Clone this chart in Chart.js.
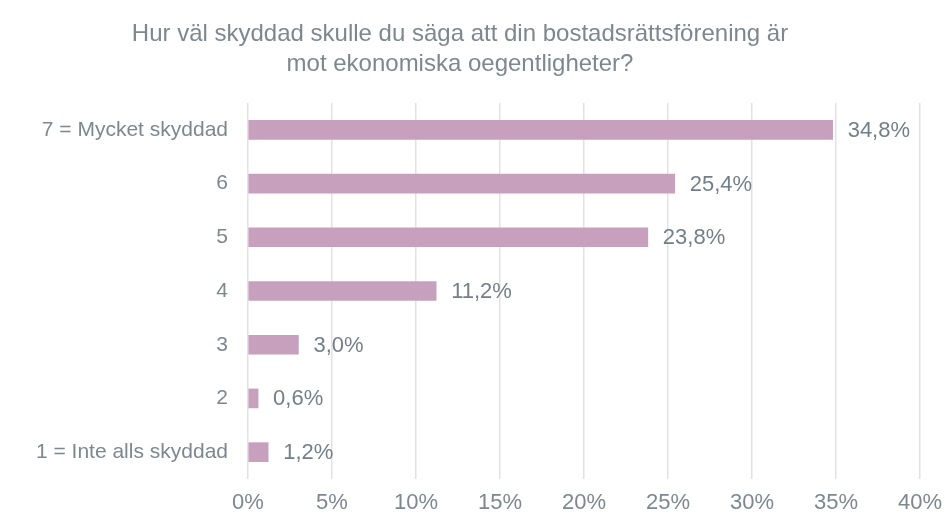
<!DOCTYPE html>
<html lang="sv">
<head>
    <meta charset="UTF-8">
    <title>Hur väl skyddad skulle du säga att din bostadsrättsförening är</title>
    <script src="https://cdnjs.cloudflare.com/ajax/libs/Chart.js/4.4.1/chart.umd.min.js"></script>
    <style>
        body {
            margin: 0;
            background: #ffffff;
        }
        .chart-wrapper {
            width: 945px;
            height: 517px;
            position: relative;
        }
    </style>
</head>
<body>
    <div class="chart-wrapper">
        <canvas id="chart"></canvas>
    </div>

    <script>
        // Data
        const categories = ['7 = Mycket skyddad', '6', '5', '4', '3', '2', '1 = Inte alls skyddad'];
        const values = [34.8, 25.4, 23.8, 11.2, 3.0, 0.6, 1.2];
        const xTicks = [0, 5, 10, 15, 20, 25, 30, 35, 40];

        const textColor = '#7d8790';
        const fontFamily = "'Liberation Sans', Arial, sans-serif";

        // Etiketter vid stapelns slut
        const valueLabels = {
            id: 'valueLabels',
            afterDatasetsDraw(chart) {
                const ctx = chart.ctx;
                const meta = chart.getDatasetMeta(0);
                ctx.save();
                ctx.fillStyle = '#737f88';
                ctx.font = '22px ' + fontFamily;
                ctx.textAlign = 'left';
                ctx.textBaseline = 'middle';
                meta.data.forEach((bar, i) => {
                    const txt = values[i].toFixed(1).replace('.', ',') + '%';
                    ctx.fillText(txt, bar.x + 15, bar.y + 1);
                });
                ctx.restore();
            }
        };

        new Chart(document.getElementById('chart'), {
            type: 'bar',
            data: {
                labels: categories,
                datasets: [{
                    data: values,
                    backgroundColor: '#c6a0bd',
                    borderWidth: 0,
                    barThickness: 19
                }]
            },
            options: {
                indexAxis: 'y',
                responsive: true,
                maintainAspectRatio: false,
                animation: false,
                layout: {
                    padding: { top: 0, right: 25, bottom: 0, left: 0 }
                },
                plugins: {
                    legend: { display: false },
                    tooltip: { enabled: false },
                    title: {
                        display: true,
                        text: ['Hur väl skyddad skulle du säga att din bostadsrättsförening är',
                               'mot ekonomiska oegentligheter?'],
                        color: textColor,
                        font: { family: fontFamily, size: 24, weight: 'normal', lineHeight: 1.25 },
                        padding: { top: 19, bottom: 24 }
                    }
                },
                scales: {
                    x: {
                        min: 0,
                        max: 40,
                        afterBuildTicks(axis) {
                            axis.ticks = xTicks.map(v => ({ value: v }));
                        },
                        afterFit(scale) {
                            scale.height = 38;
                            scale.paddingRight = 0;
                            scale.paddingLeft = 0;
                        },
                        ticks: {
                            color: textColor,
                            font: { family: fontFamily, size: 22 },
                            padding: 11,
                            maxRotation: 0,
                            callback: v => v + '%'
                        },
                        grid: {
                            color: '#e2e2e2',
                            lineWidth: 1.5,
                            drawTicks: false
                        },
                        border: { display: false }
                    },
                    y: {
                        afterFit(scale) {
                            scale.width = 248;
                        },
                        ticks: {
                            color: textColor,
                            font: { family: fontFamily, size: 21 },
                            padding: 20
                        },
                        grid: { display: false, drawTicks: false },
                        border: { display: false }
                    }
                }
            },
            plugins: [valueLabels]
        });
    </script>
</body>
</html>
